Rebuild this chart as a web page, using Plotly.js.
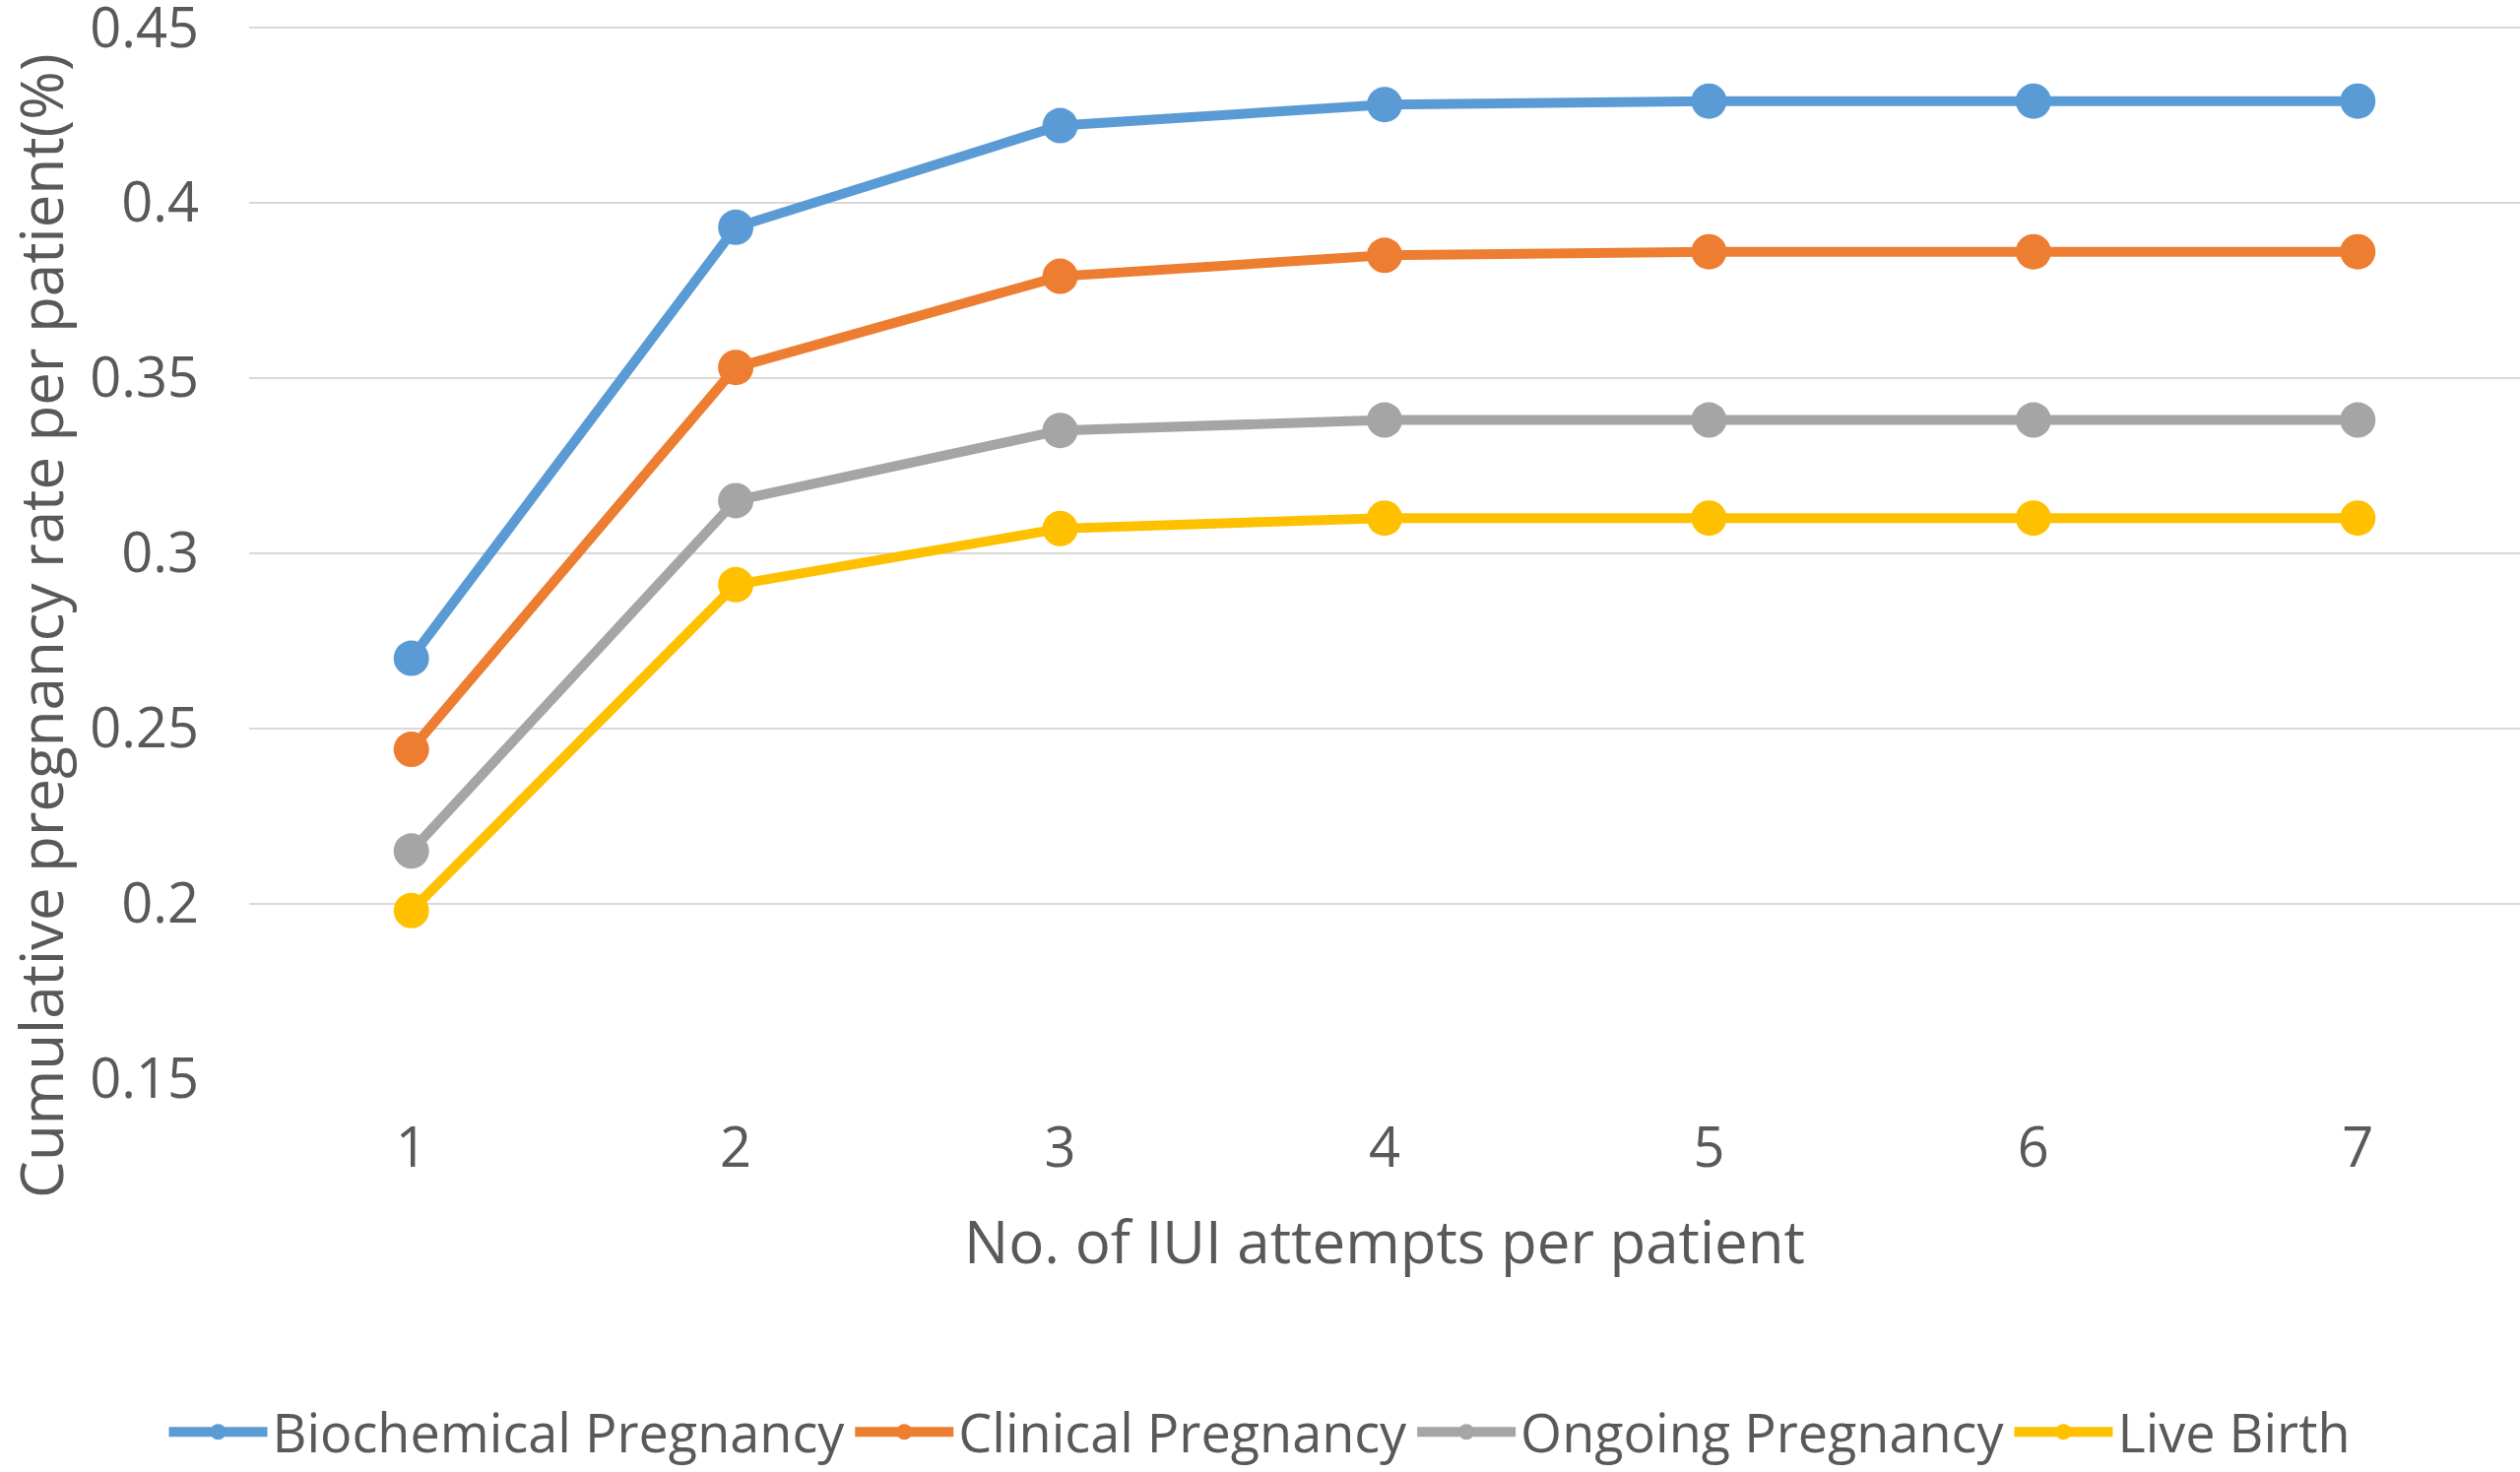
<!DOCTYPE html>
<html>
<head>
<meta charset="utf-8">
<script src="https://cdn.plot.ly/plotly-3.0.1.min.js"></script>
<style>
  html, body { margin: 0; padding: 0; background: #fff; }
  #chart { width: 2559px; height: 1495px; }
</style>
</head>
<body>
<div id="chart"></div>
<script>
const attempts = ["1", "2", "3", "4", "5", "6", "7"];

const biochemical = [0.270, 0.393, 0.422, 0.428, 0.429, 0.429, 0.429];
const clinical = [0.244, 0.353, 0.379, 0.385, 0.386, 0.386, 0.386];
const ongoing = [0.215, 0.315, 0.335, 0.338, 0.338, 0.338, 0.338];
const liveBirth = [0.198, 0.291, 0.307, 0.310, 0.310, 0.310, 0.310];

const seriesNames = ["Biochemical Pregnancy", "Clinical Pregnancy", "Ongoing Pregnancy", "Live Birth"];
const seriesColors = ["#5B9BD5", "#ED7D31", "#A5A5A5", "#FFC000"];

const yTicks = [0.15, 0.2, 0.25, 0.3, 0.35, 0.4, 0.45];
const yTickText = ["0.15", "0.2", "0.25", "0.3", "0.35", "0.4", "0.45"];

const font = "'Open Sans', 'Noto Sans', sans-serif";
const textColor = "#595959";

function makeSeries(values, i) {
  return {
    x: attempts,
    y: values,
    name: seriesNames[i],
    type: "scatter",
    mode: "lines+markers",
    line: { color: seriesColors[i], width: 10 },
    marker: { color: seriesColors[i], size: 36 },
  };
}

const data = [biochemical, clinical, ongoing, liveBirth].map(makeSeries);

// range top nudged up a few px so the 0.45 gridline is not clipped at the edge
const layout = {
  width: 2559,
  height: 1495,
  paper_bgcolor: "#fff",
  plot_bgcolor: "#fff",
  font: { family: font, color: textColor, size: 54 },
  showlegend: true,
  margin: { l: 253, r: 0, t: 24, b: 399, pad: 0 },
  xaxis: {
    type: "category",
    range: [-0.5, 6.5],
    showgrid: false,
    zeroline: false,
    showline: false,
    ticks: "",
    ticklabelstandoff: 32,
    tickfont: { size: 56, color: textColor },
    title: { text: "No. of IUI attempts per patient", font: { size: 60, color: textColor }, standoff: 40 },
  },
  yaxis: {
    range: [0.1499, 0.4511],
    tickvals: yTicks,
    ticktext: yTickText,
    showgrid: true,
    gridcolor: "#D9D9D9",
    gridwidth: 2,
    zeroline: false,
    showline: false,
    ticks: "",
    ticklabelstandoff: 50,
    ticklabeloverflow: "allow",
    tickfont: { size: 56, color: textColor },
  },
  annotations: [
    {
      text: "Cumulative pregnancy rate per patient(%)",
      xref: "paper",
      yref: "paper",
      x: -0.092,
      y: 0.43,
      xanchor: "center",
      yanchor: "middle",
      textangle: -90,
      showarrow: false,
      font: { size: 60, color: textColor },
    },
  ],
  legend: {
    orientation: "h",
    xref: "container",
    yref: "container",
    x: 0.5,
    xanchor: "center",
    y: 0.027,
    yanchor: "middle",
    font: { size: 54, color: textColor },
    itemwidth: 100,
    tracegroupgap: 0,
  },
};

Plotly.newPlot("chart", data, layout, { displayModeBar: false, staticPlot: true });
</script>
</body>
</html>
